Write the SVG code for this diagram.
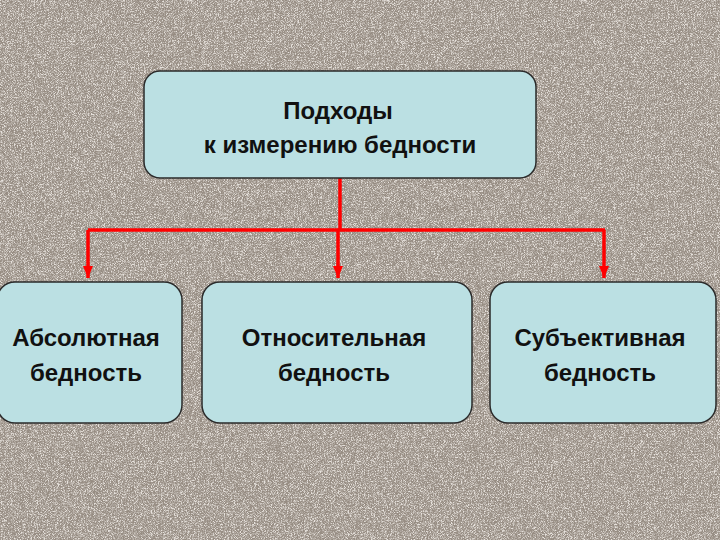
<svg xmlns="http://www.w3.org/2000/svg" width="720" height="540" viewBox="0 0 720 540">
  <defs>
    <filter id="grain" x="0" y="0" width="100%" height="100%">
      <feTurbulence type="fractalNoise" baseFrequency="1.1" numOctaves="2" seed="3" result="n"/>
      <feColorMatrix in="n" type="matrix" values="0 0 0 0 0.45  0 0 0 0 0.41  0 0 0 0 0.37  2.4 2.4 2.4 0 -3.4" result="dark"/>
      <feTurbulence type="fractalNoise" baseFrequency="1.3" numOctaves="1" seed="11" result="n2"/>
      <feColorMatrix in="n2" type="matrix" values="0 0 0 0 0.80  0 0 0 0 0.76  0 0 0 0 0.72  2.4 2.4 2.4 0 -3.5" result="light"/>
      <feMerge><feMergeNode in="dark"/><feMergeNode in="light"/></feMerge>
    </filter>
    <marker id="arrow" viewBox="0 0 12 10" refX="12" refY="5" markerWidth="12" markerHeight="10" markerUnits="userSpaceOnUse" orient="auto">
      <path d="M0,0 L12,5 L0,10 Z" fill="#ff0000"/>
    </marker>
    <style>
      .box { fill: #bbe0e3; stroke: #2a2a2a; stroke-width: 1.5; }
      .lbl { font-family: "Liberation Sans", Arial, sans-serif; font-size: 24px; font-weight: bold; fill: #111; text-anchor: middle; }
      .conn { fill: none; stroke: #ff0000; stroke-width: 3.5; }
    </style>
  </defs>
  <rect width="720" height="540" fill="#968c82"/>
  <rect width="720" height="540" filter="url(#grain)"/>

  <g id="connectors">
    <path class="conn" d="M340,178 L340,230"/>
    <path class="conn" d="M88,230 L605,230"/>
    <path class="conn" d="M88,230 L88,278" marker-end="url(#arrow)"/>
    <path class="conn" d="M338,230 L338,278" marker-end="url(#arrow)"/>
    <path class="conn" d="M604,230 L604,278" marker-end="url(#arrow)"/>
  </g>

  <g id="top">
    <rect class="box" x="144" y="71" width="392" height="107" rx="16"/>
    <text class="lbl" x="338" y="119">Подходы</text>
    <text class="lbl" x="340" y="153">к измерению бедности</text>
  </g>

  <g id="absolute">
    <rect class="box" x="-3" y="282" width="185" height="141" rx="18"/>
    <text class="lbl" x="86" y="346">Абсолютная</text>
    <text class="lbl" x="86" y="381">бедность</text>
  </g>

  <g id="relative">
    <rect class="box" x="202" y="282" width="270" height="141" rx="18"/>
    <text class="lbl" x="334" y="346">Относительная</text>
    <text class="lbl" x="334" y="381">бедность</text>
  </g>

  <g id="subjective">
    <rect class="box" x="490" y="282" width="226" height="141" rx="18"/>
    <text class="lbl" x="600" y="346">Субъективная</text>
    <text class="lbl" x="600" y="381">бедность</text>
  </g>
</svg>
